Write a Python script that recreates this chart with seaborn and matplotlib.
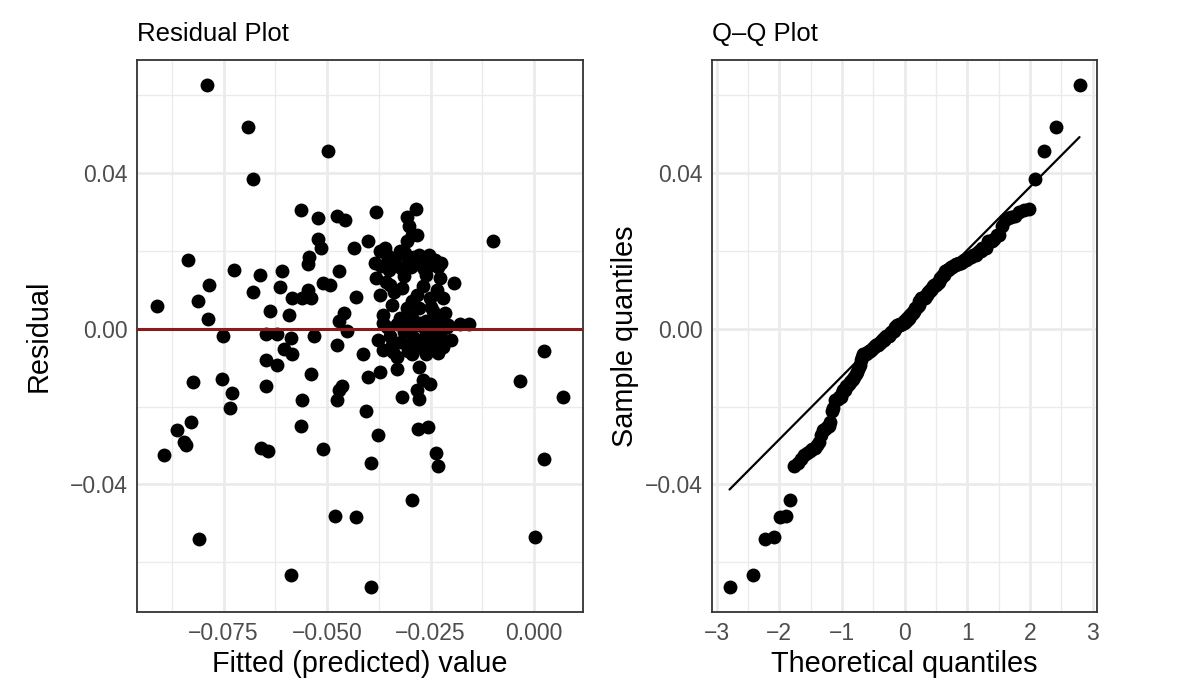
import matplotlib
matplotlib.use("Agg")
import matplotlib.pyplot as plt
import seaborn as sns
import numpy as np
import pandas as pd
from statistics import NormalDist
from matplotlib.ticker import MultipleLocator, FixedLocator

# --- data (fitted value, residual) ---
fitted = [
    -0.0789, -0.0690, -0.0678, -0.0835, -0.0724, -0.0661, -0.0784, -0.0678, -0.0811, -0.0910,
    -0.0787, -0.0751, -0.0823, -0.0753, -0.0729, -0.0734, -0.0828, -0.0862, -0.0845, -0.0840,
    -0.0893, -0.0659, -0.0642, -0.0809, -0.0497, -0.0564, -0.0521, -0.0475, -0.0456, -0.0521,
    -0.0514, -0.0436, -0.0402, -0.0543, -0.0545, -0.0610, -0.0613, -0.0470, -0.0511, -0.0494,
    -0.0547, -0.0584, -0.0560, -0.0538, -0.0429, -0.0637, -0.0591, -0.0458, -0.0470, -0.0451,
    -0.0647, -0.0620, -0.0586, -0.0531, -0.0603, -0.0584, -0.0475, -0.0414, -0.0647, -0.0622,
    -0.0538, -0.0647, -0.0463, -0.0472, -0.0560, -0.0475, -0.0402, -0.0406, -0.0562, -0.0509,
    -0.0395, -0.0480, -0.0429, -0.0586, -0.0395, -0.0238, -0.0233, -0.0294, -0.0100, -0.0194,
    -0.0180, -0.0158, 0.0023, -0.0035, 0.0069, 0.0023, 0.0001, -0.0381, -0.0286, -0.0306,
    -0.0303, -0.0296, -0.0284, -0.0308, -0.0361, -0.0373, -0.0325, -0.0277,
    -0.0385, -0.0301, -0.0260, -0.0228, -0.0381, -0.0349, -0.0318, -0.0373, -0.0284, -0.0252,
    -0.0221, -0.0342, -0.0308, -0.0277, -0.0245, -0.0366, -0.0325, -0.0294, -0.0260, -0.0228,
    -0.0366, -0.0308, -0.0277, -0.0245, -0.0211, -0.0342, -0.0308, -0.0277, -0.0245, -0.0221,
    -0.0332, -0.0294, -0.0260, -0.0332, -0.0277, -0.0373, -0.0269, -0.0252, -0.0284, -0.0318,
    -0.0277, -0.0281, -0.0257, -0.0378,
    # dense cluster, overlapping points
    -0.0370, -0.0355, -0.0345, -0.0335, -0.0322, -0.0312, -0.0305, -0.0298, -0.0290, -0.0282,
    -0.0272, -0.0265, -0.0255, -0.0248, -0.0240, -0.0232, -0.0225, -0.0350,
    -0.0358, -0.0338, -0.0315, -0.0295, -0.0268, -0.0250, -0.0235, -0.0215,
    -0.0378, -0.0365, -0.0355, -0.0348, -0.0340, -0.0330, -0.0322, -0.0315, -0.0305, -0.0298,
    -0.0290, -0.0285, -0.0275, -0.0268, -0.0262, -0.0255, -0.0248, -0.0240, -0.0232, -0.0225,
    -0.0218, -0.0208, -0.0200,
]
residual = [
    0.0625, 0.0518, 0.0384, 0.0175, 0.0150, 0.0137, 0.0112, 0.0094, 0.0071, 0.0058,
    0.0025, -0.0020, -0.0137, -0.0130, -0.0165, -0.0203, -0.0239, -0.0259, -0.0290, -0.0300,
    -0.0325, -0.0307, -0.0313, -0.0539, 0.0457, 0.0305, 0.0285, 0.0290, 0.0280, 0.0231,
    0.0206, 0.0206, 0.0226, 0.0185, 0.0165, 0.0147, 0.0107, 0.0147, 0.0117, 0.0112,
    0.0099, 0.0079, 0.0079, 0.0079, 0.0081, 0.0046, 0.0036, 0.0041, 0.0020, -0.0005,
    -0.0015, -0.0015, -0.0023, -0.0018, -0.0053, -0.0066, -0.0041, -0.0064, -0.0081, -0.0094,
    -0.0117, -0.0147, -0.0147, -0.0158, -0.0183, -0.0183, -0.0125, -0.0211, -0.0249, -0.0310,
    -0.0346, -0.0480, -0.0483, -0.0633, -0.0663, -0.0320, -0.0353, -0.0440, 0.0226, 0.0117,
    0.0013, 0.0013, -0.0058, -0.0135, -0.0175, -0.0335, -0.0534, 0.0300, 0.0307, 0.0287,
    0.0264, 0.0239, 0.0239, 0.0226, 0.0206, 0.0198, 0.0198, 0.0188,
    0.0168, 0.0173, 0.0137, 0.0130, 0.0130, 0.0112, 0.0104, 0.0086, 0.0086, 0.0079,
    0.0079, 0.0061, 0.0053, 0.0053, 0.0046, 0.0036, 0.0028, 0.0028, 0.0020, 0.0023,
    0.0015, 0.0010, 0.0008, 0.0008, 0.0003, -0.0041, -0.0041, -0.0041, -0.0036, -0.0048,
    -0.0074, -0.0066, -0.0066, -0.0104, -0.0099, -0.0112, -0.0132, -0.0142, -0.0158, -0.0175,
    -0.0180, -0.0257, -0.0252, -0.0274,
    # dense cluster, overlapping points
    0.0160, 0.0190, 0.0165, 0.0180, 0.0155, 0.0195, 0.0170, 0.0158, 0.0185, 0.0165,
    0.0178, 0.0152, 0.0190, 0.0162, 0.0175, 0.0157, 0.0168, 0.0150,
    0.0120, 0.0095, 0.0135, 0.0070, 0.0110, 0.0055, 0.0100, 0.0040,
    -0.0030, -0.0055, 0.0005, -0.0020, -0.0060, 0.0012, -0.0035, -0.0010, -0.0058, 0.0000,
    -0.0025, -0.0050, 0.0015, -0.0030, -0.0008, -0.0045, 0.0018, -0.0020, -0.0062, -0.0005,
    -0.0038, 0.0010, -0.0028,
]

x_ticks_left = [-0.075, -0.050, -0.025, 0.000]
x_labels_left = ["\u22120.075", "\u22120.050", "\u22120.025", "0.000"]
y_ticks = [-0.04, 0.00, 0.04]
y_labels = ["\u22120.04", "0.00", "0.04"]
qq_ticks = [-3, -2, -1, 0, 1, 2, 3]

df = pd.DataFrame({"fitted": fitted, "residual": residual})

# Q-Q: theoretical normal quantiles (R ppoints) and the quartile line
n = len(df)
nd = NormalDist()
a = 0.375 if n <= 10 else 0.5
sample = np.sort(df["residual"].values)
theo = np.array([nd.inv_cdf((i + 1 - a) / (n + 1 - 2 * a)) for i in range(n)])
qq = pd.DataFrame({"theoretical": theo, "sample": sample})
q1, q3 = np.quantile(sample, [0.25, 0.75])
z1, z3 = nd.inv_cdf(0.25), nd.inv_cdf(0.75)
slope = (q3 - q1) / (z3 - z1)
intercept = q1 - slope * z1
line_df = pd.DataFrame({"theoretical": [theo.min(), theo.max()]})
line_df["sample"] = intercept + slope * line_df["theoretical"]

sns.set_theme(style="white")
plt.rcParams["font.family"] = ["Liberation Sans", "DejaVu Sans"]

fig = plt.figure(figsize=(11.82, 6.96), dpi=100)
ax1 = fig.add_axes([0.1159, 0.1207, 0.3773, 0.7931])
ax2 = fig.add_axes([0.6024, 0.1207, 0.3257, 0.7931])

grid_major = "#EBEBEB"
border = "#333333"
tick_col = "#4D4D4D"


def style(ax):
    ax.set_facecolor("white")
    ax.grid(True, which="major", color=grid_major, linewidth=2.0, zorder=0)
    ax.grid(True, which="minor", color=grid_major, linewidth=1.0, zorder=0)
    ax.set_axisbelow(True)
    for sp in ax.spines.values():
        sp.set_color(border)
        sp.set_linewidth(1.3)
    ax.tick_params(which="major", length=4, width=1.1, color=border,
                   labelsize=16.5, labelcolor=tick_col, pad=3)
    ax.tick_params(which="minor", length=0)


# --- residual plot ---
sns.scatterplot(data=df, x="fitted", y="residual", ax=ax1, color="black",
                s=100, linewidth=0, zorder=3)
ax1.axhline(0, color="#8B1A1A", linewidth=2.2, zorder=4)
ax1.margins(0.05)
ax1.xaxis.set_major_locator(FixedLocator(x_ticks_left))
ax1.set_xticklabels(x_labels_left)
ax1.xaxis.set_minor_locator(MultipleLocator(0.0125))
ax1.yaxis.set_major_locator(FixedLocator(y_ticks))
ax1.set_yticklabels(y_labels)
ax1.yaxis.set_minor_locator(MultipleLocator(0.02))
style(ax1)
ax1.set_xlabel("Fitted (predicted) value", fontsize=20.8, color="black")
ax1.set_ylabel("Residual", fontsize=20.8, color="black", labelpad=12)
ax1.set_title("Residual Plot", fontsize=18.5, loc="left", pad=14, color="black")

# --- Q-Q plot ---
sns.scatterplot(data=qq, x="theoretical", y="sample", ax=ax2, color="black",
                s=100, linewidth=0, zorder=3)
sns.lineplot(data=line_df, x="theoretical", y="sample", ax=ax2, color="black",
             linewidth=1.6, zorder=4)
ax2.margins(0.05)
ax2.xaxis.set_major_locator(FixedLocator(qq_ticks))
ax2.xaxis.set_minor_locator(MultipleLocator(0.5))
ax2.yaxis.set_major_locator(FixedLocator(y_ticks))
ax2.set_yticklabels(y_labels)
ax2.yaxis.set_minor_locator(MultipleLocator(0.02))
ax2.set_ylim(ax1.get_ylim())
style(ax2)
ax2.set_xlabel("Theoretical quantiles", fontsize=20.8, color="black")
ax2.set_ylabel("Sample quantiles", fontsize=20.8, color="black")
ax2.set_title("Q\u2013Q Plot", fontsize=18.5, loc="left", pad=14, color="black")

fig.savefig("out.png", dpi=100)
